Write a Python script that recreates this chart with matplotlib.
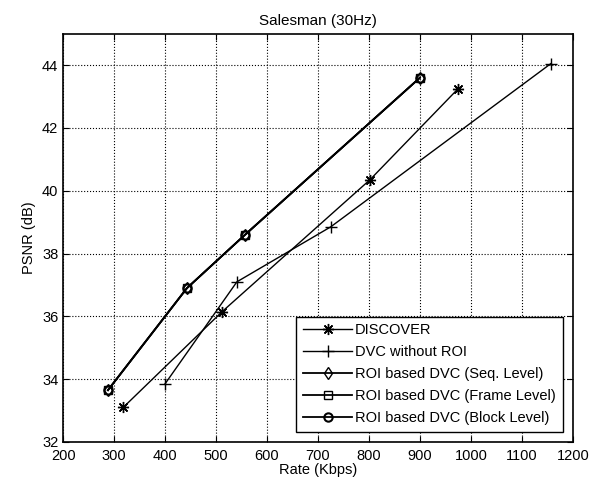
import matplotlib.pyplot as plt

plt.rcParams['font.family'] = ['Liberation Sans', 'DejaVu Sans']

# DISCOVER
discover_rate = [318, 512, 802, 975]
discover_psnr = [33.1, 36.15, 40.35, 43.25]
# DVC without ROI
noroi_rate = [400, 541, 725, 1157]
noroi_psnr = [33.85, 37.1, 38.85, 44.05]
# ROI based DVC (all three levels give the same curve)
roi_rate = [288, 443, 557, 900]
roi_seq_psnr = [33.65, 36.9, 38.6, 43.6]
roi_frame_psnr = [33.65, 36.9, 38.6, 43.6]
roi_block_psnr = [33.65, 36.9, 38.6, 43.6]

fig = plt.figure(figsize=(6.01, 4.83), dpi=100)
ax = fig.add_axes([0.105, 0.085, 0.848, 0.845])

asterisk = (8, 2, 0)  # matlab style '*'
ax.plot(discover_rate, discover_psnr, 'k-', marker=asterisk, lw=1, ms=8, label='DISCOVER')
ax.plot(noroi_rate, noroi_psnr, 'k-+', lw=1, ms=9, label='DVC without ROI')
ax.plot(roi_rate, roi_seq_psnr, 'k-d', lw=1.3, ms=6, mfc='none', label='ROI based DVC (Seq. Level)')
ax.plot(roi_rate, roi_frame_psnr, 'k-s', lw=1.3, ms=6, mfc='none', label='ROI based DVC (Frame Level)')
ax.plot(roi_rate, roi_block_psnr, 'k-o', lw=1.3, ms=6, mfc='none', mew=1.5, label='ROI based DVC (Block Level)')

ax.set_xlim(200, 1200)
ax.set_ylim(32, 45)
ax.set_xticks(range(200, 1201, 100))
ax.set_yticks(range(32, 45, 2))
ax.tick_params(direction='in', top=True, right=True, labelsize=10.5, length=4)
ax.tick_params(axis='x', pad=5)
ax.grid(True, linestyle=':', color='k', lw=0.8)
for s in ax.spines.values():
    s.set_linewidth(1.2)

ax.set_title('Salesman (30Hz)', fontsize=11)
ax.set_xlabel('Rate (Kbps)', fontsize=10.5, labelpad=0)
ax.set_ylabel('PSNR (dB)', fontsize=10.5, labelpad=4)

leg = ax.legend(loc='lower right', fontsize=10.5, handlelength=3.4, handletextpad=0.2,
                fancybox=False, framealpha=1, edgecolor='k', borderaxespad=0.7,
                labelspacing=0.55, borderpad=0.45)
leg.get_frame().set_linewidth(1)

fig.savefig('out.png', dpi=100)
